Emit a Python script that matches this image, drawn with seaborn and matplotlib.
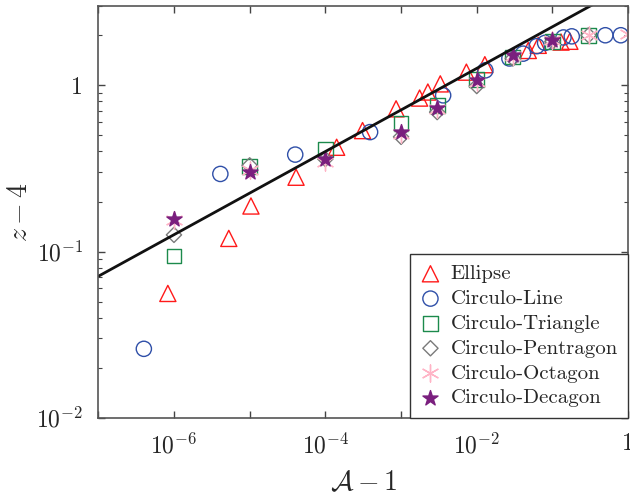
import numpy as np
import pandas as pd
import matplotlib
matplotlib.use("Agg")
import matplotlib.pyplot as plt
import seaborn as sns
from matplotlib.ticker import FixedLocator, FixedFormatter, LogLocator, NullLocator

# data (A-1 vs z-4)
ellipse_x = [8.3e-7, 5.3e-6, 1.04e-5, 4.1e-5, 1.41e-4, 3.1e-4, 8.6e-4, 1.76e-3,
             2.26e-3, 3.3e-3, 7.3e-3, 1.28e-2, 4.8e-2, 6.5e-2, 1.3e-1, 1.7e-1]
ellipse_y = [0.056, 0.12, 0.188, 0.28, 0.424, 0.534, 0.722, 0.838,
             0.911, 1.02, 1.2, 1.33, 1.62, 1.74, 1.82, 1.84]

line_x_pts = [4.0e-7, 4.1e-6, 4.0e-5, 3.9e-4, 3.6e-3, 1.3e-2, 2.7e-2, 4.1e-2,
              6.2e-2, 8.0e-2, 1.4e-1, 1.8e-1, 5.0e-1, 8.0e-1]
line_y_pts = [0.026, 0.293, 0.383, 0.523, 0.87, 1.23, 1.45, 1.55,
              1.72, 1.8, 1.94, 1.97, 2.0, 2.0]

tri_x = [1e-6, 1e-5, 1e-4, 1e-3, 3e-3, 1e-2, 3e-2, 1e-1, 3e-1]
tri_y = [0.094, 0.325, 0.41, 0.586, 0.756, 1.08, 1.48, 1.84, 2.0]

pent_x = [1e-6, 1e-5, 1e-4, 1e-3, 3e-3, 1e-2, 3e-2, 1e-1, 3e-1]
pent_y = [0.126, 0.33, 0.36, 0.49, 0.69, 0.99, 1.45, 1.83, 2.0]

oct_x = [1e-6, 1e-5, 1e-4, 1e-3, 3e-3, 1e-2, 3e-2, 1e-1, 3e-1, 1.0]
oct_y = [0.155, 0.31, 0.345, 0.51, 0.72, 1.05, 1.5, 1.86, 2.0, 2.03]

dec_x = [1e-6, 1e-5, 1e-4, 1e-3, 3e-3, 1e-2, 3e-2, 1e-1]
dec_y = [0.157, 0.30, 0.36, 0.527, 0.73, 1.07, 1.53, 1.87]

# reference power-law line, endpoints
fit_x = [1e-7, 1.0]
fit_y = [0.071, 4.0]

xtick_vals = [1e-7, 1e-6, 1e-5, 1e-4, 1e-3, 1e-2, 1e-1, 1.0]
xtick_labels = ['', r'$10^{-6}$', '', r'$10^{-4}$', '', r'$10^{-2}$', '', '1']
ytick_vals = [1e-2, 1e-1, 1.0]
ytick_labels = [r'$10^{-2}$', r'$10^{-1}$', '1']

sns.set_style("ticks")
plt.rcParams['font.family'] = ['cmr10', 'DejaVu Serif']
plt.rcParams['mathtext.fontset'] = 'cm'
plt.rcParams['axes.unicode_minus'] = False

series = [
    ('Ellipse', ellipse_x, ellipse_y, '^', '#ff1a1a', 'none', 135),
    ('Circulo-Line', line_x_pts, line_y_pts, 'o', '#2f4fa8', 'none', 120),
    ('Circulo-Triangle', tri_x, tri_y, 's', '#1c8a4c', 'none', 115),
    ('Circulo-Pentragon', pent_x, pent_y, 'D', '#7a7a7a', 'none', 60),
    ('Circulo-Octagon', oct_x, oct_y, (6, 2, 0), '#ffb4c6', '#ffb4c6', 150),
    ('Circulo-Decagon', dec_x, dec_y, '*', '#7a1f7e', '#7a1f7e', 130),
]

fig, ax = plt.subplots(figsize=(6.3, 4.98), dpi=100)
fig.subplots_adjust(left=0.156, right=0.997, bottom=0.161, top=0.988)
ax.set_xscale('log')
ax.set_yscale('log')

for name, xs, ys, mk, col, fc, size in series:
    df = pd.DataFrame({'x': xs, 'y': ys})
    if fc == 'none':
        sns.scatterplot(data=df, x='x', y='y', marker=mk, s=size,
                        facecolor=fc, edgecolor=col, linewidth=1.0,
                        label=name, ax=ax)
    else:
        sns.scatterplot(data=df, x='x', y='y', marker=mk, s=size,
                        color=col, edgecolor=col, linewidth=1.0,
                        label=name, ax=ax)

sns.lineplot(x=fit_x, y=fit_y, color='#111111', linewidth=2.0, ax=ax)

ax.set_xlim(1e-7, 1.0)
ax.set_ylim(1e-2, 3.0)

ax.xaxis.set_major_locator(FixedLocator(xtick_vals))
ax.xaxis.set_major_formatter(FixedFormatter(xtick_labels))
ax.xaxis.set_minor_locator(NullLocator())
ax.yaxis.set_major_locator(FixedLocator(ytick_vals))
ax.yaxis.set_major_formatter(FixedFormatter(ytick_labels))
ax.yaxis.set_minor_locator(LogLocator(base=10, subs=np.arange(2, 10)))

ax.tick_params(which='both', direction='in', top=True, right=True,
               color='#444444', labelsize=17)
ax.tick_params(which='major', length=5, width=1.0, pad=11)
ax.tick_params(which='minor', length=3, width=0.8)
for sp in ax.spines.values():
    sp.set_color('#555555')
    sp.set_linewidth(1.2)

ax.set_xlabel(r'$\mathcal{A}-1$', fontsize=20, labelpad=8)
ax.set_ylabel(r'$z-4$', fontsize=20, labelpad=2)

leg = ax.legend(loc='lower right', fontsize=15, frameon=True, fancybox=False,
                framealpha=1, edgecolor='#333333', borderaxespad=0,
                handletextpad=0.5, labelspacing=0.3, borderpad=0.5,
                handlelength=0.92)
leg.get_frame().set_linewidth(1.0)

plt.savefig('out.png', dpi=100)
